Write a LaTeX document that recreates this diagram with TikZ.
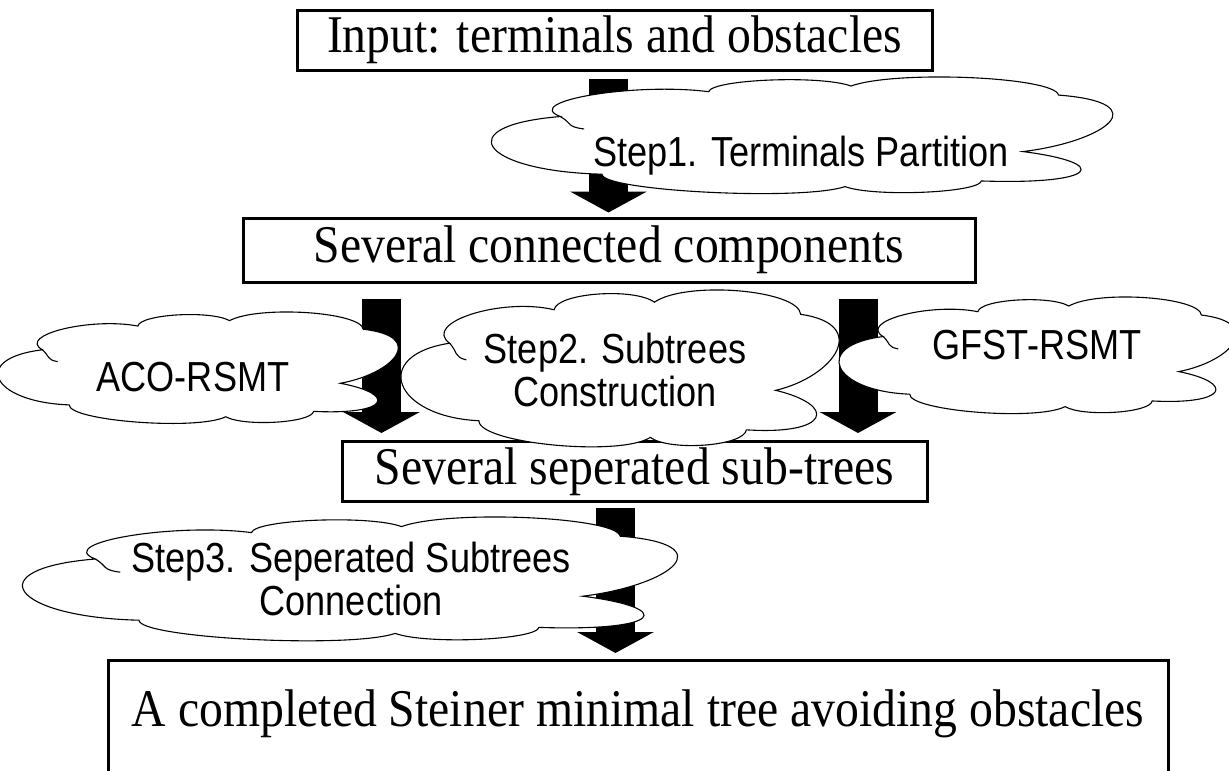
\documentclass[tikz,border=0pt]{standalone}
\usepackage{fontspec}
\setmainfont{Liberation Serif}
\newfontfamily\boxfont[FakeStretch=0.9]{Liberation Serif}
\newfontfamily\cloudfont[FakeStretch=0.86]{Liberation Sans}
\usetikzlibrary{arrows.meta,calc}

\tikzset{
  stage/.style={draw, line width=3pt, inner sep=0pt,
    font=\boxfont\fontsize{53}{60}\selectfont},
  cloudline/.style={draw=black, fill=white, line width=1.1pt, line join=miter},
  cloudstroke/.style={draw=black, line width=1.1pt},
  cloudtext/.style={inner sep=0pt, align=center,
    font=\cloudfont\fontsize{42}{43}\selectfont},
  blockarrow/.style={line width=39pt, -{Triangle[length=21pt, width=76pt]}},
}

% Cloud outline drawn in a unit frame (y pointing down) stretched into a box.
% #1 top-left corner, #2 width, #3 height
\newcommand\puffcloud[3]{%
  \begin{scope}[shift={(#1)}, x=#2pt, y=-#3pt]
    \path[cloudline] (0.09,0.35)
      .. controls +(-0.067,-0.135) and +(-0.125,-0.083) .. (0.34,0.13)
      .. controls +(0.006,-0.110) and +(-0.050,-0.098) .. (0.58,0.08)
      .. controls +(0.076,-0.143) and +(-0.006,-0.162) .. (0.93,0.16)
      .. controls +(0.168,0.067) and +(0.140,-0.090) .. (0.87,0.66)
      .. controls +(0.150,0.100) and +(0.199,0.035) .. (0.80,0.92)
      .. controls +(-0.005,0.106) and +(0.049,0.094) .. (0.57,0.97)
      .. controls +(-0.074,0.129) and +(0,0.149) .. (0.16,0.86)
      .. controls +(-0.204,-0.026) and +(-0.190,0.080) .. (0.09,0.35)
      -- cycle;
    \draw[cloudstroke] (0.09,0.35) .. controls +(0.02,0.06) and +(-0.03,-0.02) .. (0.13,0.46);
  \end{scope}}

\begin{document}
\begin{tikzpicture}[x=1pt, y=-1pt]
  \clip (0,0) rectangle (1229,771);
  \fill[white] (0,0) rectangle (1229,771);

  % process stages
  \node[stage, minimum width=635pt, minimum height=60pt] (b1) at (614.5,40)
    {Input: terminals and obstacles};
  \node[stage, minimum width=732pt, minimum height=64pt] (b2) at (609,250)
    {Several connected components};
  \node[stage, minimum width=585pt, minimum height=60pt] (b3) at (634.5,471.5)
    {Several seperated sub-trees};
  \node[stage, anchor=north, minimum width=1060pt, inner ysep=12pt,
        text height=54pt, text depth=90pt] (b4) at (638,659)
    {A completed Steiner minimal tree avoiding obstacles};

  % columns of the block arrows
  \coordinate (c1) at (608.5,0);
  \coordinate (c2) at (381.5,0);
  \coordinate (c3) at (858,0);
  \coordinate (c4) at (615.5,0);

  \draw[blockarrow] ($(b1.south -| c1)+(0,7)$) -- ($(b2.north -| c1)+(0,-4)$);
  \draw[blockarrow] ($(b2.south -| c2)+(0,15)$) -- ($(b3.north -| c2)+(0,-7)$);
  \draw[blockarrow] ($(b2.south -| c3)+(0,15)$) -- ($(b3.north -| c3)+(0,-7)$);
  \draw[blockarrow] ($(b3.south -| c4)+(0,5)$) -- ($(b4.north -| c4)+(0,-6)$);

  % step annotations
  \puffcloud{507,77}{593}{113}
  \node[cloudtext] (s1) at (801,156) {Step1. Terminals Partition};

  \puffcloud{8,312}{382}{108}
  \node[cloudtext] (aco) at (193,377) {ACO-RSMT};

  \puffcloud{412,290}{418}{152}
  \node[cloudtext] (s2) at (615,370) {Step2. Subtrees\\Construction};

  \puffcloud{849,297}{379}{113}
  \node[cloudtext] (gfst) at (1037,345) {GFST-RSMT};

  \puffcloud{39,517}{625}{120}
  \node[cloudtext] (s3) at (351,579) {Step3. Seperated Subtrees\\Connection};
\end{tikzpicture}
\end{document}
